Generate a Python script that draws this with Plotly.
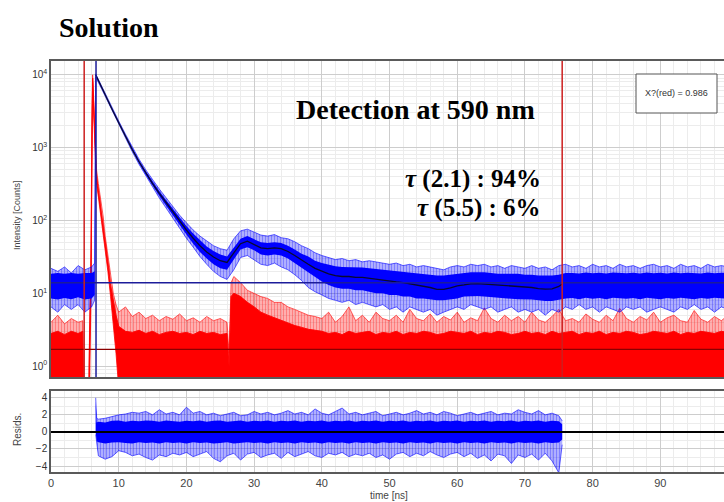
import plotly.graph_objects as go

# ------------------------------------------------------------------ data
# decay (blue) - envelope of the noisy trace
t_blue = [0, 1, 2, 3, 4, 5, 6, 6.45, 6.6, 7, 7.5] + list(range(8, 101))
blue_out_lo = [6.5, 5.5, 7, 6, 7, 5.5, 6.5, 8, 9300, 7950, 6350,
               5100, 3240, 2080, 1330, 880, 590, 410, 280, 203, 148,
               107, 77, 57, 43, 32, 25, 20, 17, 15.5, 21,
               31, 33, 29, 25, 24, 26, 23, 21, 18, 15,
               12, 10.5, 9.5, 8.5, 8, 7.5, 8, 7, 7.5, 7,
               6.5, 7, 6, 6.5, 5.5, 6.5, 6, 5.5, 6, 5,
               5.5, 6, 6.5, 6, 7, 6.5, 6, 6.5, 5.5, 6,
               6.5, 5.5, 6, 5.5, 6, 5, 6, 5.5, 6.5, 6,
               7, 6, 6.5, 5.5, 6.5, 6, 5.5, 6.5, 6, 6.5,
               5.5, 6, 6.5, 6, 5.5, 6.5, 6, 7, 6, 6.5,
               5.5, 6.5, 6]
blue_in_lo = [8.5, 8.2, 8.6, 8.3, 8.8, 8.2, 8.5, 9.5, 9700, 8150, 6500,
              5210, 3330, 2145, 1385, 905, 610, 425, 298, 217, 159,
              116, 85, 64, 48, 37, 30, 25, 22, 21, 29,
              40, 43, 39, 34, 33, 34, 33, 30, 26, 22,
              19, 16.5, 14.5, 13, 12, 11.5, 11.5, 11, 11, 10.5,
              10, 10, 9.5, 9.5, 9, 9, 8.5, 8.5, 8.2, 8,
              8, 8.2, 8.5, 9, 9.2, 9.2, 9, 8.8, 8.6, 8.5,
              8.4, 8.3, 8.3, 8.2, 8, 7.8, 7.8, 8.2, 8.5, 8.6,
              8.3, 8.7, 8.4, 8.6, 8.3, 8.7, 8.5, 8.4, 8.6, 8.3,
              8.7, 8.5, 8.3, 8.6, 8.4, 8.7, 8.5, 8.3, 8.6, 8.4,
              8.7, 8.5, 8.4]
blue_in_hi = [18.5, 19, 18.5, 19, 18.5, 19, 19, 20, 10000, 8450, 6700,
              5390, 3470, 2255, 1475, 975, 670, 475, 342, 253, 191,
              144, 109, 84, 66, 53, 44, 38, 34, 32, 43,
              56, 61, 55, 50, 49, 50, 49, 45, 40, 35,
              32, 28, 26, 24.5, 23.5, 23, 23, 22.5, 22.5, 22,
              21.5, 21, 20.5, 20, 19.5, 19.5, 19, 18.5, 18, 17.5,
              17.5, 18, 18.5, 19, 19.5, 19.5, 19.5, 19, 18.5, 18.5,
              18.5, 18.5, 18, 18, 17.5, 17.5, 17.5, 18, 19, 19,
              18.7, 19.3, 18.8, 19.2, 18.7, 19.3, 19, 18.8, 19.2, 18.7,
              19.3, 18.9, 19.1, 18.7, 19.3, 18.8, 19.2, 19, 18.7, 19.3,
              18.9, 19.1, 19]
blue_out_hi = [22, 20, 23, 19, 24, 21, 23, 26, 10300, 8600, 6850,
               5500, 3560, 2330, 1530, 1010, 695, 495, 362, 270, 205,
               155, 118, 93, 74, 61, 52, 45, 41, 39, 56,
               72, 76, 70, 63, 61, 64, 58, 56, 51, 45,
               41, 36, 33, 31, 29, 30, 28, 29, 27, 28,
               27, 26, 25, 26, 24, 25, 23, 24, 23, 22,
               21, 23, 24, 23, 25, 24, 25, 23, 24, 22,
               24, 23, 22, 24, 22, 23, 21, 24, 25, 23,
               24, 22, 25, 23, 24, 22, 25, 23, 24, 22,
               24, 25, 23, 24, 22, 25, 23, 24, 22, 25,
               23, 24, 23]

# fitted curve (dark line)
t_fit = [6.6, 7, 7.5] + list(range(8, 76)) + [75.5]
fit_vals = [10000, 8300, 6600,
            5300, 3400, 2200, 1430, 940, 640, 450, 320, 235, 175,
            130, 97, 74, 57, 45, 37, 31.5, 28, 26.5, 36,
            48, 52, 47, 42, 41, 42, 41, 37.5, 33, 28.5,
            25, 22, 20, 18.5, 17.5, 17, 17, 16.5, 16.5, 16,
            15.5, 15, 14.8, 14.3, 14, 13.5, 13.2, 12.5, 12, 11.3,
            11.3, 11.9, 12.6, 13, 13.5, 13.6, 13.4, 13.1, 12.8, 12.6,
            12.4, 12.3, 12.2, 12, 11.6, 11.4, 11.5, 12.4,
            13.4]

# instrument response (red)
t_red = [0, 1, 2, 3, 4, 4.7, 4.8, 5.6, 5.7, 5.9, 6.05, 6.15, 6.3, 6.45,
         6.7, 7.0, 7.3, 7.7, 8.0, 8.4, 8.8, 9.2, 9.6] + list(range(10, 27)) \
        + [26.3, 26.6] + list(range(27, 101))
red_lo = [0.5, 0.5, 0.5, 0.5, 0.5, 0.5, 0.5, 0.5, 0.5, 8, 1000, 8000, 3000, 1000,
          330, 210, 130, 70, 40, 20, 9, 4, 1.5] + [0.5] * 93
red_in = [2.8, 3.0, 2.7, 3.0, 2.8, 3.0, 0.5, 0.5, 2.5, 15, 1500, 9000, 4000, 1300,
          420, 260, 165, 90, 50, 27, 13, 7.5, 5,
          3.5, 3.0, 2.9, 3.1, 2.8, 3.0, 2.7, 2.9, 3.0, 2.8, 2.9, 2.7, 3.0, 2.8, 2.9, 2.7, 2.8,
          1.0, 9.0,
          10, 9, 7.5, 6.5, 5.5, 5, 4.6, 4.2, 3.9, 3.6, 3.4, 3.2, 3.1,
          3.0, 2.8, 2.9, 2.7, 3.0, 2.8, 2.9, 3.0, 2.7, 2.9,
          2.8, 3.0, 2.7, 2.9, 2.8, 3.0, 2.9, 2.7, 2.8, 3.0,
          2.9, 2.8, 3.0, 2.7, 2.9, 2.8, 3.0, 2.9, 2.7, 2.8,
          3.0, 2.8, 2.9, 2.7, 3.0, 2.8, 2.9, 3.0, 2.7, 2.9,
          2.8, 3.0, 2.7, 2.9, 2.8, 3.0, 2.9, 2.7, 2.8, 3.0,
          2.9, 2.8, 3.0, 2.7, 2.9, 2.8, 3.0, 2.9, 2.8, 3.0,
          2.9]
red_out = [4.0, 5.0, 3.8, 4.5, 4.0, 4.2, 0.5, 0.5, 4.0, 40, 3000, 10000, 5000, 1700,
           520, 320, 210, 115, 62, 35, 17, 10, 7,
           5.5, 6.5, 4.8, 5.5, 4.5, 5.0, 4.2, 4.8, 4.4, 5.2, 4.2, 4.6, 4.0, 4.8, 4.2, 4.5, 4.0,
           1.5, 14,
           17, 14, 11, 10, 9, 8.5, 7.5, 7.5, 6.5, 6, 5.5, 5, 4.8,
           4.5, 5.5, 4.0, 4.8, 6.5, 4.2, 5.0, 4.0, 5.5, 4.5,
           4.2, 5.0, 4.0, 6.0, 4.5, 4.2, 5.2, 4.0, 4.8, 4.3,
           5.5, 4.0, 4.6, 4.2, 6.3, 4.5, 4.0, 5.0, 4.2, 4.8,
           4.0, 5.5, 4.3, 4.0, 4.8, 6.0, 4.2, 4.5, 4.0, 5.2,
           4.4, 4.0, 5.0, 4.2, 6.2, 4.5, 4.0, 4.8, 4.3, 5.5,
           4.0, 4.6, 5.0, 4.2, 4.0, 5.8, 4.4, 4.0, 4.8, 4.2,
           5.0]

# weighted residuals
t_res = [6.6, 6.75] + list(range(7, 76)) + [75.5]
res_out_lo = [-0.3, -1.5,
              -2.8, -3.2, -2.9, -2.2, -2.4, -2.8, -2.6, -3.0, -3.3, -2.7,
              -2.9, -2.5, -2.7, -2.4, -2.9, -2.6, -2.3, -3.1, -3.5, -2.8,
              -2.5, -3.3, -2.6, -2.4, -3.0, -2.7, -2.5, -3.1, -2.4, -2.9,
              -2.6, -2.3, -2.8, -3.0, -2.5, -2.7, -2.4, -2.9, -2.6, -2.8,
              -2.5, -3.0, -2.7, -3.2, -2.6, -2.4, -2.9, -2.5, -2.8, -2.3,
              -2.7, -3.0, -2.6, -2.4, -2.9, -2.5, -3.1, -2.7, -3.4, -2.6,
              -2.8, -3.7, -2.7, -3.0, -2.6, -3.3, -2.5, -3.4, -4.8,
              -1.5]
res_in_lo = [0.0, -1.1,
             -1.2, -1.35, -1.25, -1.2, -1.3, -1.35, -1.2, -1.3, -1.25, -1.35,
             -1.2, -1.3, -1.25, -1.35, -1.2, -1.3, -1.25, -1.35, -1.3, -1.2,
             -1.35, -1.3, -1.2, -1.3, -1.25, -1.35, -1.2, -1.3, -1.25, -1.35,
             -1.2, -1.3, -1.25, -1.35, -1.2, -1.3, -1.25, -1.35, -1.2, -1.3,
             -1.25, -1.35, -1.2, -1.3, -1.25, -1.35, -1.2, -1.3, -1.25, -1.35,
             -1.2, -1.3, -1.25, -1.35, -1.2, -1.3, -1.25, -1.35, -1.2, -1.3,
             -1.25, -1.35, -1.2, -1.3, -1.25, -1.35, -1.2, -1.3, -1.25,
             -0.9]
res_in_hi = [3.6, 1.1,
             1.2, 1.1, 1.3, 1.35, 1.2, 1.3, 1.25, 1.35, 1.3, 1.2,
             1.35, 1.3, 1.2, 1.3, 1.25, 1.35, 1.2, 1.3, 1.35, 1.2,
             1.3, 1.35, 1.2, 1.3, 1.25, 1.35, 1.2, 1.3, 1.25, 1.35,
             1.2, 1.3, 1.25, 1.35, 1.2, 1.3, 1.25, 1.35, 1.2, 1.3,
             1.25, 1.35, 1.2, 1.3, 1.25, 1.35, 1.2, 1.3, 1.25, 1.35,
             1.2, 1.3, 1.25, 1.35, 1.2, 1.3, 1.25, 1.35, 1.2, 1.3,
             1.25, 1.35, 1.2, 1.3, 1.25, 1.35, 1.2, 1.3, 1.25,
             0.9]
res_out_hi = [4.0, 1.6,
              1.5, 1.6, 1.8, 2.0, 2.1, 2.3, 2.2, 2.4, 2.0, 2.6,
              2.1, 2.3, 2.0, 2.9, 2.2, 2.4, 2.0, 2.2, 1.9, 2.1,
              2.3, 1.9, 2.0, 2.4, 2.1, 2.3, 2.0, 2.2, 2.5, 2.1,
              2.3, 2.0, 2.7, 2.2, 2.0, 2.4, 2.8, 2.1, 2.3, 2.0,
              2.2, 2.4, 1.9, 2.1, 2.3, 2.0, 2.2, 2.5, 2.1, 2.3,
              2.0, 2.4, 2.2, 1.9, 2.1, 2.3, 2.0, 2.2, 2.4, 2.0,
              2.2, 2.1, 2.6, 2.3, 2.1, 2.5, 2.0, 2.2, 1.9,
              1.3]

# reference markers of the analysis software
v_red_lines = [4.9, 75.5]
v_blue_lines = [6.65]
h_blue_level = 14
h_red_level = 1.7
x_max = 99.4

# ------------------------------------------------------------------ figure
BLUE = "#0000ff"
RED = "#ff0000"
fig = go.Figure()


def band(x, lo, hi, color, xa, ya, pattern=False, edge=0.0):
    n = min(len(x), len(lo), len(hi))
    fig.add_trace(go.Scatter(x=x[:n], y=lo[:n], mode="lines",
                             line=dict(color=color, width=edge),
                             hoverinfo="skip", showlegend=False,
                             xaxis=xa, yaxis=ya))
    kw = dict(fill="tonexty", fillcolor=color)
    if pattern:
        kw = dict(fill="tonexty", fillcolor="rgba(0,0,0,0)",
                  fillpattern=dict(shape="|", fgcolor=color,
                                   bgcolor="rgba(0,0,0,0)",
                                   size=3, solidity=0.75))
    fig.add_trace(go.Scatter(x=x[:n], y=hi[:n], mode="lines",
                             line=dict(color=color, width=edge),
                             hoverinfo="skip", showlegend=False,
                             xaxis=xa, yaxis=ya, **kw))


# red IRF
band(t_red, red_in, red_out, RED, "x", "y", pattern=True, edge=0.6)
band(t_red, red_lo, red_in, RED, "x", "y", edge=0.8)

# blue decay
band(t_blue, blue_out_lo, blue_out_hi, BLUE, "x", "y", pattern=True, edge=0.6)
band(t_blue, blue_in_lo, blue_in_hi, BLUE, "x", "y")

# fit
fig.add_trace(go.Scatter(x=t_fit, y=fit_vals, mode="lines",
                         line=dict(color="#0a0a30", width=1.3),
                         showlegend=False, xaxis="x", yaxis="y"))

# horizontal marker lines
fig.add_trace(go.Scatter(x=[0, x_max], y=[h_blue_level] * 2, mode="lines",
                         line=dict(color="#1c1c9a", width=1.5),
                         showlegend=False, xaxis="x", yaxis="y"))
fig.add_trace(go.Scatter(x=[0, x_max], y=[h_red_level] * 2, mode="lines",
                         line=dict(color="#8a0000", width=1.2),
                         showlegend=False, xaxis="x", yaxis="y"))

# residuals
band(t_res, res_out_lo, res_out_hi, BLUE, "x2", "y2", pattern=True, edge=0.6)
band(t_res, res_in_lo, res_in_hi, BLUE, "x2", "y2")
fig.add_trace(go.Scatter(x=[0, x_max], y=[0, 0], mode="lines",
                         line=dict(color="#000000", width=2),
                         showlegend=False, xaxis="x2", yaxis="y2"))

shapes = []
for xv in v_red_lines:
    shapes.append(dict(type="line", xref="x", yref="y domain", x0=xv, x1=xv,
                       y0=0, y1=1, line=dict(color="#cc1f1f", width=1.5)))
for xv in v_blue_lines:
    shapes.append(dict(type="line", xref="x", yref="y domain", x0=xv, x1=xv,
                       y0=0, y1=1, line=dict(color="#1c1c9a", width=1.5)))

# chi-square box
W, H, L, T, B = 724, 502, 51, 61, 30
PW, PH = W - L, H - T - B


def px(xp):
    return (xp - L) / PW


def py(yp):
    return (H - B - yp) / PH


shapes.append(dict(type="rect", xref="paper", yref="paper",
                   x0=px(636), x1=px(717), y0=py(113), y1=py(74),
                   fillcolor="white", line=dict(color="#555", width=1)))

tick_font = dict(family="Liberation Sans, Arial", size=10, color="#333")
grid = "#cdcdcd"
mgrid = "#ececec"
frame = "#5a5a5a"

fig.update_layout(
    width=W, height=H,
    margin=dict(l=L, r=0, t=T, b=B),
    paper_bgcolor="white", plot_bgcolor="white",
    showlegend=False,
    shapes=shapes,
    xaxis=dict(domain=[0, 1], range=[0, x_max], anchor="y",
               showticklabels=False, dtick=10, tick0=0,
               showgrid=True, gridcolor=grid, gridwidth=1,
               minor=dict(dtick=2, showgrid=True, gridcolor=mgrid),
               zeroline=False, showline=True, linecolor=frame,
               linewidth=1.5, mirror=True, ticks=""),
    yaxis=dict(domain=[py(377), 1], type="log", range=[-0.15, 4.19],
               anchor="x",
               tickvals=[1, 10, 100, 1000, 10000],
               ticktext=["10<sup>0</sup>", "10<sup>1</sup>", "10<sup>2</sup>",
                         "10<sup>3</sup>", "10<sup>4</sup>"],
               tickfont=tick_font,
               showgrid=True, gridcolor=grid, gridwidth=1,
               minor=dict(dtick="D1", showgrid=True, gridcolor=mgrid),
               zeroline=False, showline=True, linecolor=frame,
               linewidth=1.5, mirror=False, ticks=""),
    xaxis2=dict(domain=[0, 1], range=[0, x_max], anchor="y2",
                dtick=10, tick0=0, tickfont=dict(family="Liberation Sans, Arial",
                                                 size=11, color="#444"),
                showgrid=True, gridcolor=grid, gridwidth=1,
                minor=dict(dtick=2, showgrid=True, gridcolor=mgrid),
                zeroline=False, showline=True, linecolor=frame,
                linewidth=1.5, mirror=True, ticks=""),
    yaxis2=dict(domain=[0, py(391)], range=[-4.7, 4.8], anchor="x2",
                tickvals=[-4, -2, 0, 2, 4], tickfont=tick_font,
                showgrid=True, gridcolor=grid, gridwidth=1,
                minor=dict(dtick=1, showgrid=True, gridcolor=mgrid),
                zeroline=False, showline=True, linecolor=frame,
                linewidth=1.5, mirror=False, ticks=""),
)

serif = "Liberation Serif, Times New Roman, serif"
ann = [
    dict(text="<b>Solution</b>", x=px(57), y=py(27), xanchor="left",
         yanchor="middle", font=dict(family=serif, size=28, color="black")),
    dict(text="<b>Detection at 590 nm</b>", x=px(415), y=py(110),
         xanchor="center", yanchor="middle",
         font=dict(family=serif, size=28, color="black")),
    dict(text="<b><i>τ</i> (2.1) : 94%</b>", x=px(543), y=py(179),
         xanchor="right", yanchor="middle",
         font=dict(family=serif, size=25, color="black")),
    dict(text="<b><i>τ</i> (5.5) : 6%</b>", x=px(543), y=py(208),
         xanchor="right", yanchor="middle",
         font=dict(family=serif, size=25, color="black")),
    dict(text="X?(red) = 0.986", x=px(676.5), y=py(93.5), xanchor="center",
         yanchor="middle",
         font=dict(family="Liberation Sans, Arial", size=9, color="#333")),
    dict(text="Intensity [Counts]", x=px(17), y=py(215), textangle=-90,
         xanchor="center", yanchor="middle",
         font=dict(family="Liberation Sans, Arial", size=9, color="#444")),
    dict(text="Resids.", x=px(17), y=py(430), textangle=-90,
         xanchor="center", yanchor="middle",
         font=dict(family="Liberation Sans, Arial", size=10, color="#444")),
    dict(text="time [ns]", x=px(389), y=py(496), xanchor="center",
         yanchor="middle",
         font=dict(family="Liberation Sans, Arial", size=10, color="#444")),
]
for a in ann:
    a.update(xref="paper", yref="paper", showarrow=False)
fig.update_layout(annotations=ann)

fig.write_html("out.html")
